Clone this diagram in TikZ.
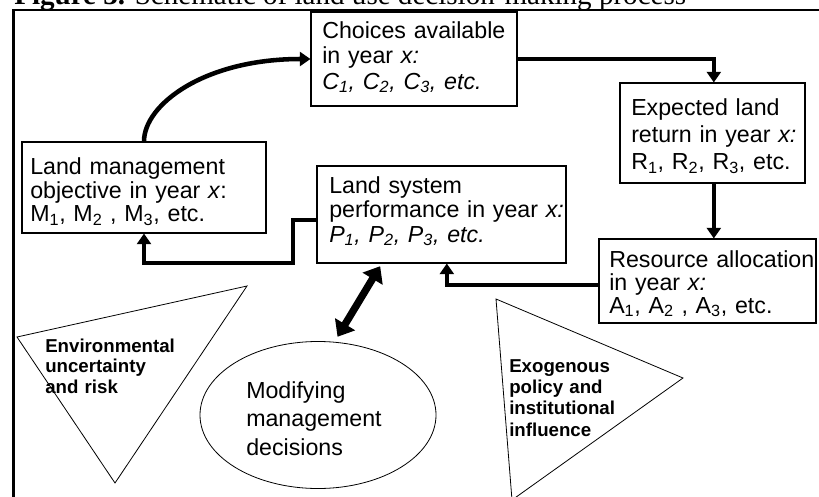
\documentclass[tikz,border=0pt]{standalone}
\usepackage{fontspec}
\usetikzlibrary{arrows.meta,fit,shapes.geometric}
\setmainfont{Liberation Sans}
\newfontfamily\titlefont{Liberation Serif}
\tikzset{
  box/.style={draw, line width=0.8pt, inner sep=0pt},
  txt/.style={anchor=base west, inner sep=0pt, text width=300pt, align=left},
  boxtxt/.style={txt, font=\fontsize{17.4pt}{#1}\selectfont},
  outl/.style={draw, line width=0.6pt},
  conn/.style={line width=3.4pt, -{Triangle[length=8pt,width=10.5pt]}},
  dbl/.style={line width=5.5pt, {Triangle[length=11pt,width=17pt]}-{Triangle[length=11pt,width=17pt]}},
  frame/.style={line width=1.6pt}
}
\begin{document}
\begin{tikzpicture}[x=0.75pt,y=-0.75pt]
\useasboundingbox (0,0) rectangle (819,497);
\clip (0,0) rectangle (819,497);

% title (cut at the top)
\node[anchor=base west, inner sep=0pt] (title) at (14,4.5)
  {\titlefont\fontsize{21.8pt}{24pt}\selectfont\textbf{Figure 3.} Schematic of land use decision-making process};

% outer frame
\draw[frame] (13.5,520) -- (13.5,10) -- (840,10);

% boxes
\node[box, fit={(311,12) (517,106)}] (choices) {};
\node[box, fit={(620,83) (805,183)}] (expected) {};
\node[box, fit={(22,142) (266,233)}] (lman) {};
\node[box, fit={(317,166) (566,263)}] (lsys) {};
\node[box, fit={(599,239) (816,323)}] (resource) {};

% box texts
\node[boxtxt=19.1pt] (choicesT) at (322,38.5) {Choices available\\in year \textit{x:}\\\textit{C\textsubscript{1}, C\textsubscript{2}, C\textsubscript{3}, etc.}};
\node[boxtxt=20.6pt] (expectedT) at (631,115) {Expected land\\return in year \textit{x:}\\R\textsubscript{1}, R\textsubscript{2}, R\textsubscript{3}, etc.};
\node[boxtxt=17.8pt] (lmanT) at (30,174.5) {Land management\\objective in year \textit{x}:\\M\textsubscript{1}, M\textsubscript{2} , M\textsubscript{3}, etc.};
\node[boxtxt=18.4pt] (lsysT) at (329,193) {Land system\\performance in year \textit{x:}\\\textit{P\textsubscript{1}, P\textsubscript{2}, P\textsubscript{3}, etc.}};
\node[boxtxt=17.25pt] (resourceT) at (609,267) {Resource allocation\\in year \textit{x:}\\A\textsubscript{1}, A\textsubscript{2} , A\textsubscript{3}, etc.};

% ellipse
\node[ellipse, outl, minimum width=177pt, minimum height=110.25pt, inner sep=0pt] (mod) at (318,415) {};
\node[txt, font=\fontsize{17.4pt}{21.4pt}\selectfont] (modT) at (246,398) {Modifying\\management\\decisions};

% triangles
\draw[outl] (17,337) -- (247,286) -- (115,483) -- cycle;
\node[txt, font=\bfseries\fontsize{14pt}{15.5pt}\selectfont] (envT) at (45,352) {Environmental\\uncertainty\\and risk};
\draw[outl] (496,299) -- (683,378) -- (512,500) -- cycle;
\node[txt, font=\bfseries\fontsize{14pt}{16pt}\selectfont] (exoT) at (509,372) {Exogenous\\policy and\\institutional\\influence};

% connectors
\draw[conn] (lman.north) .. controls +(0,-37) and +(-106,0) .. (choices.west);
\draw[conn] (choices.east) -| ([xshift=1pt]expected.north);
\draw[conn] ([xshift=1pt]expected.south) -- ([xshift=1pt]expected.south |- resource.north);
\draw[conn] ([yshift=-3pt]resource.west) -| ([xshift=4pt]lsys.south);
\coordinate (bend) at (293,263);
\draw[conn] ([yshift=-4pt]lsys.west) -| (bend) -| (lman.south);
\draw[dbl] ([xshift=-46pt,yshift=-2pt]lsys.south) -- ([yshift=4pt]mod.75);
\end{tikzpicture}
\end{document}
